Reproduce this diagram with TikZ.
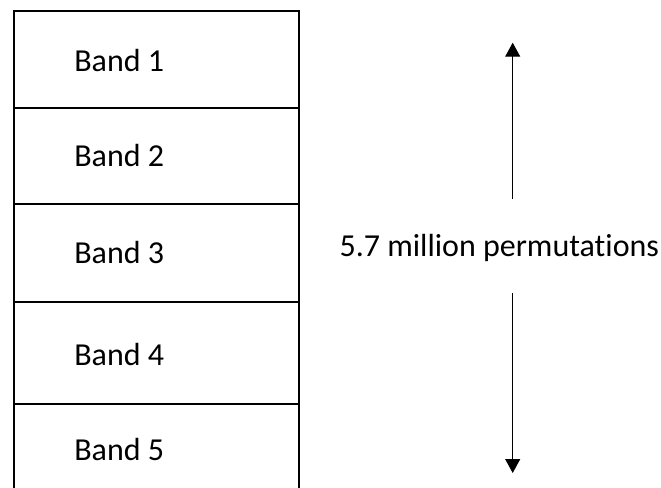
\documentclass[tikz,border=0pt]{standalone}
\usepackage{fontspec}
\setmainfont{Carlito}[Ligatures={NoCommon}]
\usetikzlibrary{arrows.meta}
\begin{document}
\begin{tikzpicture}[x=0.75pt,y=-0.75pt,
  boxline/.style={line width=1.5pt},
  bandlabel/.style={anchor=base west,inner sep=0pt,font=\fontsize{24}{28}\selectfont},
  arrowline/.style={line width=0.75pt,-{Triangle[width=11.25pt,length=10.5pt]}}]
\useasboundingbox (0,0) rectangle (661,487);
\clip (0,0) rectangle (661,487);
% box outline
\coordinate (tl) at (13.5,11);
\coordinate (tr) at (298.5,11);
\coordinate (bl) at (13.5,495);
\coordinate (br) at (298.5,495);
\draw[boxline] (bl) -- (tl) -- (tr) -- (br);
% dividers
\foreach \y [count=\i] in {107.7,204,301.7,404}{
  \coordinate (dl\i) at (13.5,\y);
  \coordinate (dr\i) at (298.5,\y);
  \draw[boxline] (dl\i) -- (dr\i);
}
% labels
\node[bandlabel] (b1) at (74,71) {Band 1};
\node[bandlabel] (b2) at (74,166) {Band 2};
\node[bandlabel] (b3) at (74,263) {Band 3};
\node[bandlabel] (b4) at (74,365) {Band 4};
\node[bandlabel] (b5) at (74,460) {Band 5};
% arrows
\node[bandlabel] (perm) at (339.3,256.7) {5.7 million permutations};
\coordinate (upS) at (512.7,199);
\coordinate (upE) at (512.7,42.7);
\coordinate (dnS) at (512.7,293);
\coordinate (dnE) at (512.7,473);
\draw[arrowline] (upS) -- (upE);
\draw[arrowline] (dnS) -- (dnE);
\end{tikzpicture}
\end{document}
